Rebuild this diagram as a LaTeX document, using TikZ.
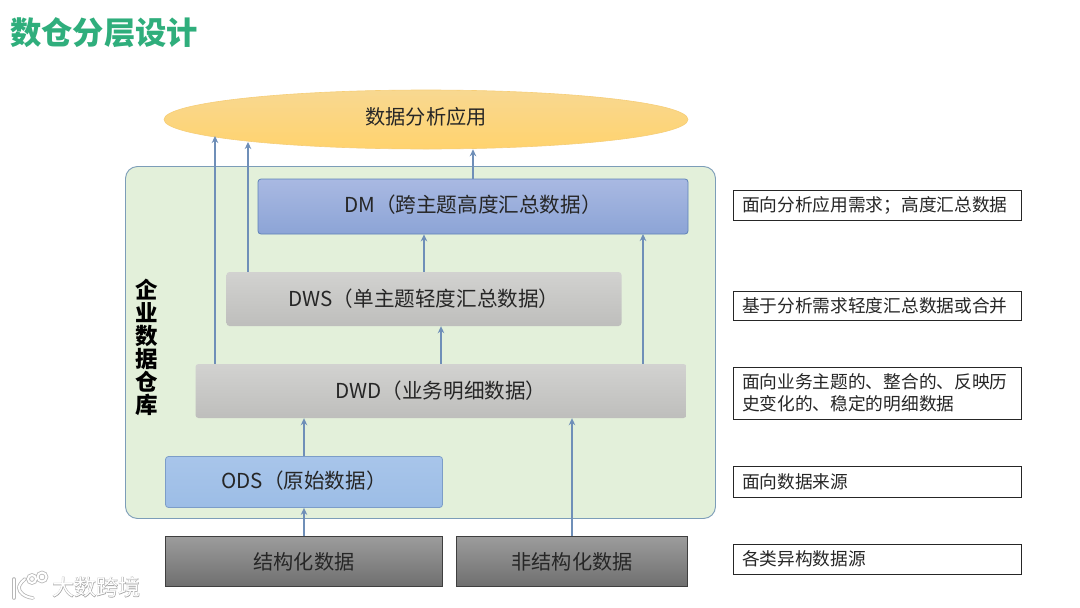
\documentclass[tikz,border=0pt]{standalone}
\usepackage{fontspec}
\setmainfont{Noto Sans CJK SC}
\newfontfamily\wmbold[FakeBold=3]{Noto Sans CJK SC}
\usetikzlibrary{shapes.geometric,arrows.meta,calc}
\definecolor{titlegreen}{HTML}{2FAE7C}
\definecolor{panelfill}{HTML}{E3F0DA}
\definecolor{panelline}{HTML}{7C9DB8}
\definecolor{flowblue}{HTML}{6F8FB8}
\definecolor{flowtip}{HTML}{5F80B4}
\definecolor{labeltext}{HTML}{262626}
\definecolor{dmtop}{HTML}{A9B9E2}
\definecolor{dmbot}{HTML}{8CA4D6}
\definecolor{dmline}{HTML}{5F82B8}
\definecolor{greytop}{HTML}{D2D2D0}
\definecolor{greybot}{HTML}{BEBEBC}
\definecolor{odstop}{HTML}{A8C5EA}
\definecolor{odsbot}{HTML}{9CBDE6}
\definecolor{odsline}{HTML}{7C9DC8}
\definecolor{srctop}{HTML}{9C9C9C}
\definecolor{srcbot}{HTML}{6F6F6F}
\definecolor{srcline}{HTML}{3F3F3F}
\definecolor{apptop}{HTML}{F8D891}
\definecolor{appbot}{HTML}{FFD36E}
\definecolor{appline}{HTML}{F6CE78}
\tikzset{
  layer/.style={rectangle,rounded corners=3pt,inner sep=0pt,text=labeltext,font=\fontsize{20.6}{24}\selectfont},
  dmlayer/.style={layer,top color=dmtop,bottom color=dmbot,draw=dmline,line width=0.8pt},
  greylayer/.style={layer,top color=greytop,bottom color=greybot},
  odslayer/.style={layer,top color=odstop,bottom color=odsbot,draw=odsline,line width=0.8pt},
  sourcebox/.style={rectangle,inner sep=0pt,top color=srctop,bottom color=srcbot,draw=srcline,line width=0.9pt,text=labeltext,font=\fontsize{20.2}{24}\selectfont},
  notebox/.style={rectangle,draw=labeltext,line width=0.7pt,fill=white,inner sep=0pt,text=labeltext,font=\fontsize{17.7}{22}\selectfont,minimum width=288pt},
  flow/.style={draw=flowblue,line width=1.3pt,-{Stealth[length=7pt,width=6.5pt,fill=flowtip]}},
  wmshade/.style={text=black!45,opacity=.7,font=\fontsize{22}{24}\wmbold},
  wmtop/.style={text=white,font=\fontsize{22}{24}\selectfont},
  logoshade/.style={draw=black!40,line width=3.6pt,opacity=.7,line cap=round},
  logotop/.style={draw=white,line width=2pt,line cap=round},
}
\newcommand{\logopath}[1]{%
  \draw[#1] (14,579) -- (14,598);
  \draw[#1] (25,579) .. controls (20,583) and (19,586) .. (19,588) .. controls (19,592) and (24,597) .. (33,598);
  \draw[#1] (32,579) circle (4pt);
  \draw[#1] (42,577) circle (4.5pt);
}
\begin{document}
\begin{tikzpicture}[x=1pt,y=-1pt]
\useasboundingbox[fill=white] (0,0) rectangle (1080,608);
\node[anchor=west,text=titlegreen,font=\fontsize{31.3}{34}\selectfont\bfseries,inner sep=0pt] (title) at (10,32.5) {数仓分层设计};
\node[rectangle,rounded corners=12pt,minimum width=590pt,minimum height=352pt,fill=panelfill,draw=panelline,line width=0.9pt] (panel) at (420.5,342.5) {};
\node[ellipse,inner sep=0pt,minimum width=524pt,minimum height=59pt,top color=apptop,bottom color=appbot,draw=appline,line width=0.6pt,text=labeltext,font=\fontsize{20.2}{24}\selectfont] (app) at (426,119.5) {\raisebox{-5pt}[0pt][0pt]{数据分析应用}};
\node[dmlayer,minimum width=430pt,minimum height=55pt] (dm) at (473,206.5) {\raisebox{-5.5pt}[0pt][0pt]{DM（跨主题高度汇总数据）}};
\node[greylayer,minimum width=395pt,minimum height=54pt] (dws) at (424,299) {DWS（单主题轻度汇总数据）};
\node[greylayer,minimum width=491pt,minimum height=54pt] (dwd) at (441,391) {DWD（业务明细数据）};
\node[odslayer,minimum width=277pt,minimum height=51pt] (ods) at (304,482) {\raisebox{-6pt}[0pt][0pt]{ODS（原始数据）}};
\node[sourcebox,minimum width=277pt,minimum height=50pt] (struct) at (304,561.5) {结构化数据};
\node[sourcebox,minimum width=231pt,minimum height=50pt] (unstruct) at (572,561.5) {非结构化数据};
\node[align=center,text=black,inner sep=0pt,font=\fontsize{22.5}{23}\selectfont\bfseries] (side) at (147,347) {企\\业\\数\\据\\仓\\库};
\coordinate (tipa) at (215,136);
\coordinate (tipb) at (248,142);
\coordinate (tipc) at (643,234);
\draw[flow] (struct.north) -- (ods.south);
\draw[flow] (ods.north) -- (ods.north |- dwd.south);
\draw[flow] (unstruct.north) -- (unstruct.north |- dwd.south);
\draw[flow] (dwd.north) -- (dwd.north |- dws.south);
\draw[flow] (dwd.north -| tipc) -- (tipc);
\draw[flow] (dws.north) -- (dws.north |- dm.south);
\draw[flow] (dm.north) -- (dm.north |- app.south);
\draw[flow] (dws.north -| tipb) -- (tipb);
\draw[flow] (dwd.north -| tipa) -- (tipa);
\node[notebox,minimum height=30pt] (n1) at (877,205) {\makebox[270pt][l]{面向分析应用需求；高度汇总数据}};
\node[notebox,minimum height=29pt] (n2) at (877,305.5) {\makebox[270pt][l]{基于分析需求轻度汇总数据或合并}};
\node[notebox,minimum height=52pt,align=left] (n3) at (877,393) {\parbox{270pt}{\baselineskip=22pt 面向业务主题的、整合的、反映历\\史变化的、稳定的明细数据}};
\node[notebox,minimum height=31pt] (n4) at (877,481.5) {\makebox[270pt][l]{面向数据来源}};
\node[notebox,minimum height=30pt] (n5) at (877,559) {\makebox[270pt][l]{各类异构数据源}};
\logopath{logoshade}
\logopath{logotop}
\node[wmshade,anchor=west,inner sep=0pt] at (52,587) {大数跨境};
\node[wmtop,anchor=west,inner sep=0pt] (wm) at (52,587) {大数跨境};
\end{tikzpicture}
\end{document}
